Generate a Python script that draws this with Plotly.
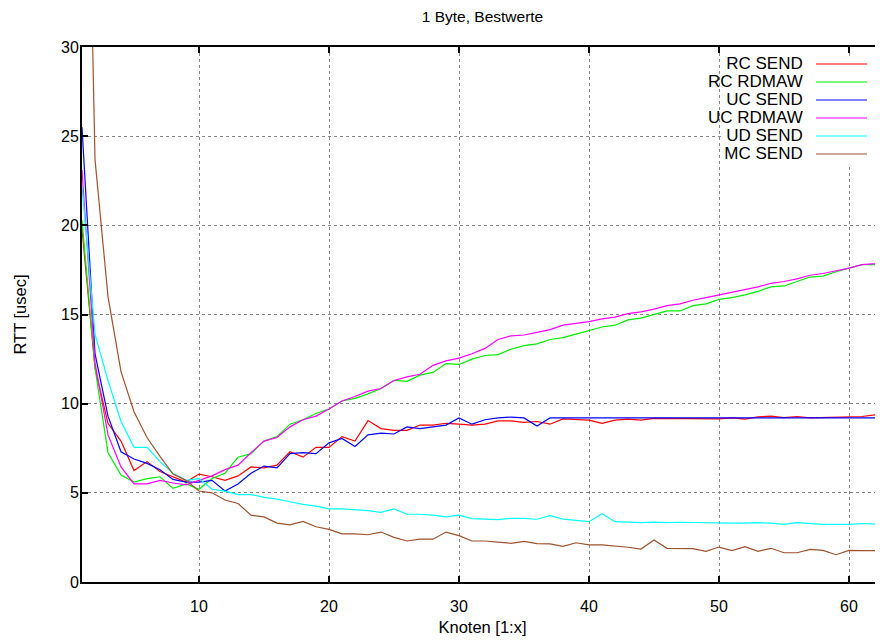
import plotly.graph_objects as go

knoten = list(range(1, 64))

rc_send = [19.8, 12.0, 8.9, 7.9, 6.25, 6.75, 6.2, 5.9, 5.6, 6.05, 5.9, 5.7, 5.95, 6.45, 6.4, 6.55,
           7.3, 7.0, 7.55, 7.55, 8.15, 7.9, 9.05, 8.6, 8.5, 8.5, 8.8, 8.8, 8.9, 8.85, 8.8, 8.85,
           9.03, 9.03, 8.95, 9.0, 8.85, 9.15, 9.1, 9.08, 8.9, 9.08, 9.13, 9.08, 9.17, 9.17, 9.13,
           9.15, 9.13, 9.15, 9.2, 9.13, 9.26, 9.3, 9.22, 9.28, 9.2, 9.22, 9.22, 9.26, 9.28, 9.37, 9.3]
rc_rdmaw = [20.3, 12.0, 7.25, 6.0, 5.6, 5.8, 5.9, 5.25, 5.5, 5.2, 5.8, 6.1, 7.0, 7.2, 7.9, 8.15,
            8.85, 9.1, 9.45, 9.7, 10.15, 10.3, 10.55, 10.85, 11.3, 11.25, 11.6, 11.75, 12.25, 12.2,
            12.5, 12.7, 12.75, 13.05, 13.25, 13.35, 13.6, 13.7, 13.9, 14.1, 14.3, 14.4, 14.7, 14.8,
            15.0, 15.2, 15.2, 15.5, 15.6, 15.85, 15.95, 16.1, 16.3, 16.55, 16.6, 16.85, 17.1, 17.15,
            17.4, 17.6, 17.8, 17.8, 18.0]
uc_send = [25.5, 12.8, 9.3, 7.3, 6.9, 6.65, 6.3, 5.75, 5.6, 5.6, 5.7, 5.1, 5.5, 6.1, 6.5, 6.4,
           7.2, 7.25, 7.2, 7.8, 8.05, 7.6, 8.25, 8.35, 8.3, 8.7, 8.6, 8.7, 8.8, 9.2, 8.85, 9.1,
           9.2, 9.25, 9.2, 8.75, 9.2, 9.2, 9.2, 9.2, 9.2, 9.2, 9.2, 9.2, 9.2, 9.2, 9.2, 9.2, 9.2,
           9.2, 9.2, 9.2, 9.2, 9.2, 9.2, 9.2, 9.2, 9.2, 9.2, 9.2, 9.2, 9.2, 9.2]
uc_rdmaw = [23.1, 12.3, 8.25, 6.45, 5.5, 5.5, 5.7, 5.55, 5.45, 5.7, 5.95, 6.3, 6.55, 7.25, 7.9, 8.1,
            8.7, 9.1, 9.3, 9.7, 10.15, 10.4, 10.7, 10.85, 11.3, 11.5, 11.65, 12.15, 12.4, 12.55,
            12.8, 13.1, 13.6, 13.8, 13.85, 14.0, 14.15, 14.4, 14.5, 14.6, 14.75, 14.85, 15.05,
            15.15, 15.3, 15.5, 15.6, 15.8, 15.95, 16.1, 16.25, 16.4, 16.55, 16.75, 16.85, 17.0,
            17.2, 17.3, 17.45, 17.6, 17.8, 17.85, 18.1]
ud_send = [22.2, 13.9, 11.3, 9.0, 7.55, 7.55, 6.75, 6.1, 5.7, 5.8, 5.2, 5.1, 4.9, 4.9, 4.75, 4.65,
           4.5, 4.35, 4.25, 4.1, 4.1, 4.05, 4.0, 3.9, 4.1, 3.8, 3.8, 3.75, 3.65, 3.75, 3.55, 3.53,
           3.5, 3.57, 3.57, 3.52, 3.72, 3.53, 3.46, 3.38, 3.83, 3.38, 3.36, 3.33, 3.36, 3.33, 3.35,
           3.33, 3.33, 3.31, 3.3, 3.3, 3.33, 3.3, 3.23, 3.33, 3.28, 3.23, 3.23, 3.23, 3.28, 3.23, 3.22]
mc_send = [59.0, 23.7, 16.0, 11.8, 9.55, 8.1, 7.05, 6.05, 5.7, 5.1, 5.0, 4.6, 4.4, 3.75, 3.65, 3.3,
           3.2, 3.4, 3.1, 2.95, 2.7, 2.7, 2.65, 2.8, 2.5, 2.3, 2.4, 2.4, 2.8, 2.6, 2.3, 2.3, 2.24,
           2.17, 2.28, 2.15, 2.14, 2.0, 2.2, 2.08, 2.08, 2.02, 1.95, 1.85, 2.36, 1.89, 1.89, 1.87,
           1.72, 1.96, 1.76, 1.98, 1.72, 1.89, 1.64, 1.64, 1.83, 1.77, 1.53, 1.77, 1.76, 1.76]

series_names = ["RC SEND", "RC RDMAW", "UC SEND", "UC RDMAW", "UD SEND", "MC SEND"]
series_values = [rc_send, rc_rdmaw, uc_send, uc_rdmaw, ud_send, mc_send]
series_colors = ["#ff0000", "#00ee00", "#0000ff", "#ff00ff", "#00ffff", "#a0522d"]

x_ticks = [10, 20, 30, 40, 50, 60]
y_ticks = [0, 5, 10, 15, 20, 25, 30]

# page body has an 8px margin; figure size/margins compensate so the plot
# area lands at screen pixels x 82..883, y 47..582
OFF = 8
W, H = 883 - OFF, 642 - OFF
L, R, T, B = 82 - OFF, 0, 47 - OFF, 60
pw, ph = W - L - R, H - T - B
px_per_x = 13.0

fig = go.Figure()
for name, vals, col in zip(series_names, series_values, series_colors):
    fig.add_trace(go.Scatter(x=knoten[:len(vals)], y=vals, mode="lines", name=name,
                             line=dict(color=col, width=1.2), showlegend=False))

font_family = "Liberation Sans, Arial, Helvetica, sans-serif"

def px2paper_x(px):
    return (px - OFF - L) / pw

def py2paper_y(py):
    return (H - B - (py - OFF)) / ph

shapes = []
shapes.append(dict(type="rect", xref="paper", yref="paper",
                   x0=px2paper_x(721), x1=px2paper_x(878),
                   y0=py2paper_y(164), y1=py2paper_y(56),
                   fillcolor="white", line=dict(width=0), layer="above"))
row_y = [64, 82, 100, 118, 136, 154]
row_gap = 18.0
for col, ry in zip(series_colors, row_y):
    shapes.append(dict(type="line", xref="paper", yref="paper",
                       x0=px2paper_x(816), x1=px2paper_x(867),
                       y0=py2paper_y(ry), y1=py2paper_y(ry),
                       line=dict(color=col, width=1.2), layer="above"))

# legend texts as one right-aligned block (line spacing = 1.3 * base font size)
legend_text = "<br>".join('<span style="font-size:17px">%s</span>' % n for n in series_names)
annotations = [dict(text=legend_text, xref="paper", yref="paper",
                    x=px2paper_x(805), y=py2paper_y((row_y[0] + row_y[-1]) / 2),
                    xanchor="right", yanchor="middle", align="right", showarrow=False,
                    font=dict(family=font_family, size=row_gap / 1.3, color="black"))]

fig.update_layout(
    width=W, height=H, autosize=False,
    margin=dict(l=L, r=R, t=T, b=B),
    plot_bgcolor="white", paper_bgcolor="white",
    font=dict(family=font_family, size=16, color="black"),
    title=dict(text="1 Byte, Bestwerte", x=0.5, xref="paper", y=(H - (17 - OFF)) / H,
               yref="container", xanchor="center", yanchor="middle", font=dict(size=15.5)),
    shapes=shapes, annotations=annotations,
    xaxis=dict(range=[1, 1 + pw / px_per_x], tickvals=x_ticks, ticks="inside", ticklen=6,
               tickwidth=1.5, tickcolor="black", showline=True, linecolor="black", linewidth=2,
               mirror="ticks", showgrid=True, gridcolor="#888888", griddash="dot", gridwidth=1,
               zeroline=False, ticklabelstandoff=9,
               title=dict(text="Knoten [1:x]", font=dict(size=16.5), standoff=7)),
    yaxis=dict(range=[0, 30], tickvals=y_ticks, ticks="inside", ticklen=6, tickwidth=1.5,
               tickcolor="black", showline=True, linecolor="black", linewidth=2,
               showgrid=True, gridcolor="#888888", griddash="dot", gridwidth=1,
               zeroline=False, ticklabelstandoff=-2,
               title=dict(text="RTT [usec]", font=dict(size=16.5), standoff=30)),
)

fig.write_html("out.html")
